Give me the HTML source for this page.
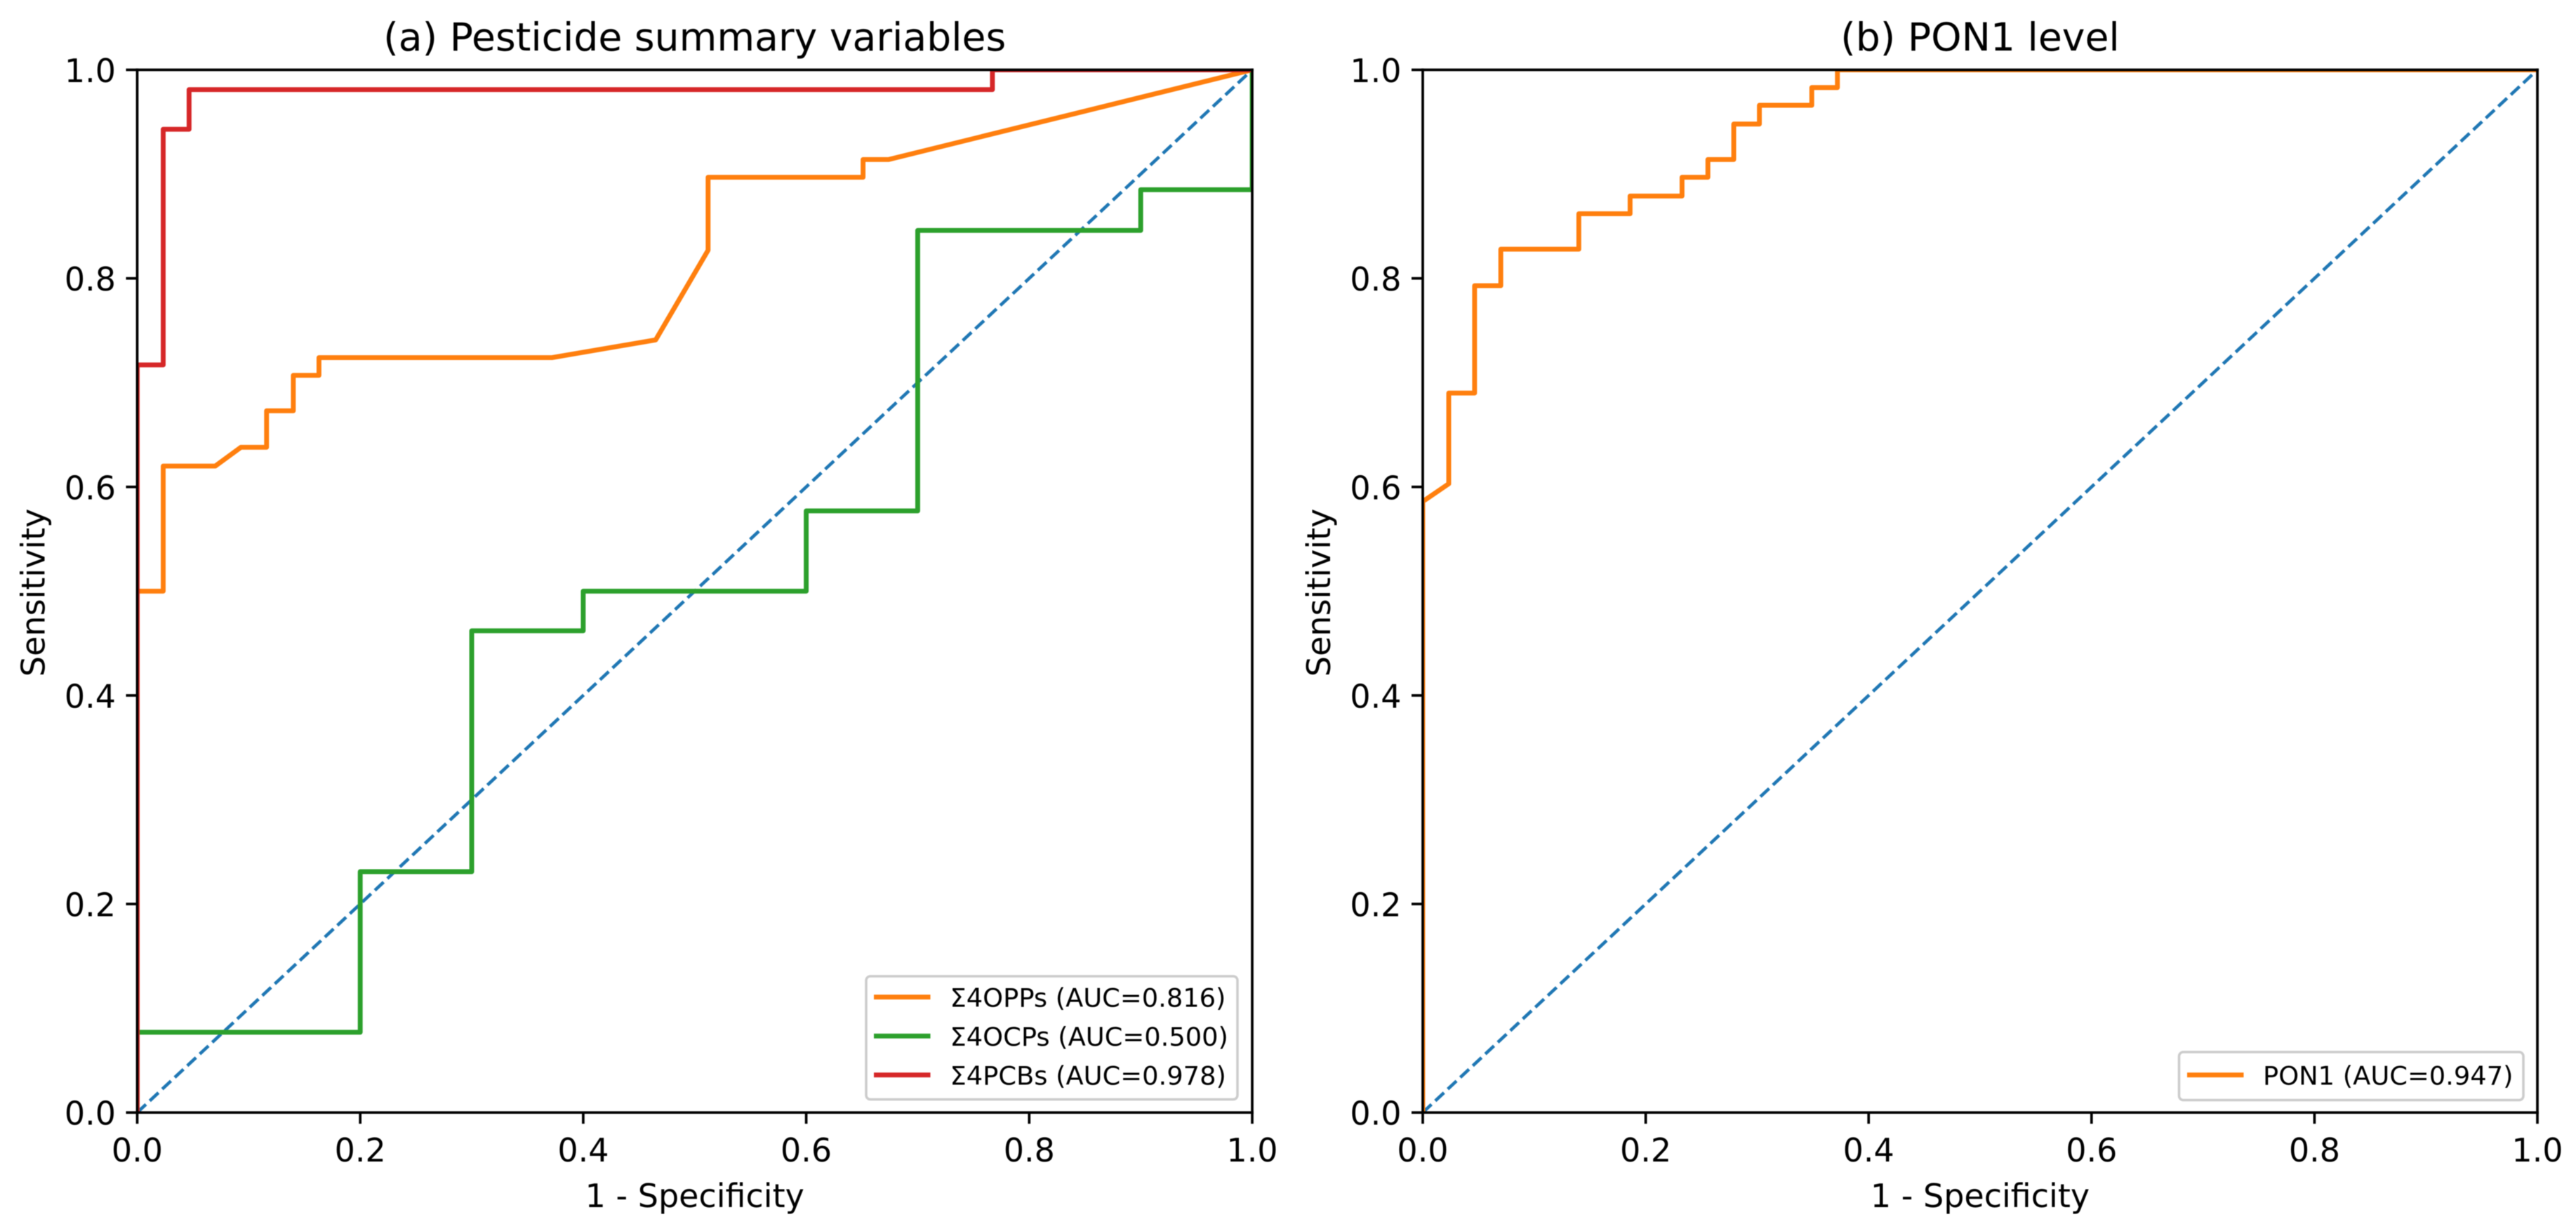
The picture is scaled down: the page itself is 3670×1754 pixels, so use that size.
<!DOCTYPE html>
<html lang="en">
<head>
<meta charset="utf-8">
<title>ROC curves</title>
<style>
html,body{margin:0;padding:0;background:#fff;}
svg{display:block;filter:blur(0.6px);}
text{font-family:"DejaVu Sans","Liberation Sans",sans-serif;fill:#000;}
</style>
</head>
<body>
<svg id="chart" xmlns="http://www.w3.org/2000/svg" width="3670" height="1754" viewBox="0 0 3670 1754"></svg>
<script>
// ---- Data ----
const xTickLabels = ['0.0', '0.2', '0.4', '0.6', '0.8', '1.0'];
const yTickLabels = ['0.0', '0.2', '0.4', '0.6', '0.8', '1.0'];
const referenceFpr = [0, 1];
const referenceTpr = [0, 1];

const oppsFpr = [0, 0, 0.0233, 0.0233, 0.07, 0.093, 0.116, 0.116, 0.14, 0.14, 0.163, 0.163, 0.372, 0.465, 0.512, 0.512, 0.651, 0.651, 0.674, 1];
const oppsTpr = [0, 0.5, 0.5, 0.62, 0.62, 0.638, 0.638, 0.673, 0.673, 0.707, 0.707, 0.724, 0.724, 0.741, 0.827, 0.897, 0.897, 0.914, 0.914, 1];

const ocpsFpr = [0, 0, 0.2, 0.2, 0.3, 0.3, 0.4, 0.4, 0.6, 0.6, 0.7, 0.7, 0.9, 0.9, 1, 1];
const ocpsTpr = [0, 0.077, 0.077, 0.231, 0.231, 0.462, 0.462, 0.5, 0.5, 0.577, 0.577, 0.846, 0.846, 0.885, 0.885, 1];

const pcbsFpr = [0, 0, 0.0233, 0.0233, 0.0465, 0.0465, 0.767, 0.767, 1];
const pcbsTpr = [0, 0.717, 0.717, 0.943, 0.943, 0.981, 0.981, 1, 1];

const pon1Fpr = [0, 0, 0.0233, 0.0233, 0.0465, 0.0465, 0.07, 0.07, 0.14, 0.14, 0.186, 0.186, 0.2326, 0.2326, 0.2558, 0.2558, 0.279, 0.279, 0.302, 0.302, 0.349, 0.349, 0.372, 0.372, 1];
const pon1Tpr = [0, 0.586, 0.603, 0.69, 0.69, 0.793, 0.793, 0.828, 0.828, 0.862, 0.862, 0.879, 0.879, 0.897, 0.897, 0.914, 0.914, 0.948, 0.948, 0.966, 0.966, 0.983, 0.983, 1, 1];

const seriesNames = ['Σ4OPPs', 'Σ4OCPs', 'Σ4PCBs', 'PON1'];
const seriesAuc = ['0.816', '0.500', '0.978', '0.947'];

// ---- Rendering ----
const SVG_NS = 'http://www.w3.org/2000/svg';
const root = document.getElementById('chart');

function make(tag, parent, name, interactable, attrs, content) {
  const el = document.createElementNS(SVG_NS, tag);
  
  
  for (const k in attrs) el.setAttribute(k, attrs[k]);
  if (content !== undefined) el.textContent = content;
  parent.appendChild(el);
  return el;
}

function drawPanel(cfg) {
  const x = v => cfg.left + v * (cfg.right - cfg.left);
  const y = v => cfg.bottom - v * (cfg.bottom - cfg.top);
  const g = make('g', root, cfg.key + '-panel', 'false', {});

  const clipId = cfg.key + '-clip';
  const defs = make('defs', g, cfg.key + '-defs', 'false', {});
  const clip = make('clipPath', defs, cfg.key + '-clip-path', 'false', { id: clipId });
  make('rect', clip, cfg.key + '-clip-rect', 'false', { x: cfg.left, y: cfg.top, width: cfg.right - cfg.left, height: cfg.bottom - cfg.top });

  const plot = make('g', g, cfg.key + '-plot-area', 'false', { 'clip-path': 'url(#' + clipId + ')' });

  const toPoints = (xs, ys) => xs.map((v, i) => x(v).toFixed(2) + ',' + y(ys[i]).toFixed(2)).join(' ');

  make('polyline', plot, cfg.key + '-reference-line', 'false', {
    points: toPoints(referenceFpr, referenceTpr), fill: 'none', stroke: '#1f77b4', 'stroke-width': 4.6, 'stroke-dasharray': '17 7.4'
  });

  cfg.series.forEach(s => {
    make('polyline', plot, cfg.key + '-curve-' + s.slug, 'true', {
      points: toPoints(s.xs, s.ys), fill: 'none', stroke: s.color, 'stroke-width': 6.9,
      'stroke-linejoin': 'round', 'stroke-linecap': 'square'
    });
  });

  const axes = make('g', g, cfg.key + '-axes', 'false', {});
  const sp = { stroke: '#000', 'stroke-width': 3.7, 'stroke-linecap': 'square' };
  make('line', axes, cfg.key + '-spine-left', 'false', Object.assign({ x1: cfg.left, x2: cfg.left, y1: cfg.top, y2: cfg.bottom }, sp));
  make('line', axes, cfg.key + '-spine-right', 'false', Object.assign({ x1: cfg.right, x2: cfg.right, y1: cfg.top, y2: cfg.bottom }, sp));
  make('line', axes, cfg.key + '-spine-top', 'false', Object.assign({ x1: cfg.left, x2: cfg.right, y1: cfg.top, y2: cfg.top }, sp));
  make('line', axes, cfg.key + '-spine-bottom', 'false', Object.assign({ x1: cfg.left, x2: cfg.right, y1: cfg.bottom, y2: cfg.bottom }, sp));

  xTickLabels.forEach(label => {
    const v = parseFloat(label);
    make('line', axes, cfg.key + '-x-tick-' + label, 'false', { x1: x(v), x2: x(v), y1: cfg.bottom, y2: cfg.bottom + 16, stroke: '#000', 'stroke-width': 3.7 });
    make('text', axes, cfg.key + '-x-tick-label-' + label, 'false', { x: x(v), y: cfg.bottom + 70, 'text-anchor': 'middle', 'font-size': 46 }, label);
  });
  yTickLabels.forEach(label => {
    const v = parseFloat(label);
    make('line', axes, cfg.key + '-y-tick-' + label, 'false', { x1: cfg.left - 16, x2: cfg.left, y1: y(v), y2: y(v), stroke: '#000', 'stroke-width': 3.7 });
    make('text', axes, cfg.key + '-y-tick-label-' + label, 'false', { x: cfg.left - 30.5, y: y(v) + 17.5, 'text-anchor': 'end', 'font-size': 46 }, label);
  });

  const cx = (cfg.left + cfg.right) / 2;
  make('text', g, cfg.key + '-title', 'false', { x: cx, y: 72, 'text-anchor': 'middle', 'font-size': 55.2 }, cfg.title);
  make('text', g, cfg.key + '-x-axis-title', 'false', { x: cx, y: 1720, 'text-anchor': 'middle', 'font-size': 46 }, '1 - Specificity');
  make('text', g, cfg.key + '-y-axis-title', 'false', {
    x: 0, y: 0, 'text-anchor': 'middle', 'font-size': 46,
    transform: 'translate(' + (cfg.left - 132) + ',' + ((cfg.top + cfg.bottom) / 2 + 2) + ') rotate(-90)'
  }, 'Sensitivity');

  const lg = cfg.legend;
  const legend = make('g', g, cfg.key + '-legend', 'false', {});
  make('rect', legend, cfg.key + '-legend-frame', 'false', {
    x: lg.left, y: lg.top, width: lg.right - lg.left, height: lg.bottom - lg.top, rx: 6, ry: 6,
    fill: '#fff', 'fill-opacity': 0.8, stroke: '#cccccc', 'stroke-width': 3.5
  });
  cfg.series.forEach((s, i) => {
    const ly = lg.firstRow + i * 55.5;
    const entry = make('g', legend, cfg.key + '-legend-entry-' + s.slug, 'true', {});
    make('line', entry, cfg.key + '-legend-swatch-' + s.slug, 'false', { x1: lg.handleL, x2: lg.handleR, y1: ly, y2: ly, stroke: s.color, 'stroke-width': 6.9 });
    make('text', entry, cfg.key + '-legend-label-' + s.slug, 'false', { x: lg.textX, y: ly + 14, 'font-size': 36.8 }, seriesNames[s.idx] + ' (AUC=' + seriesAuc[s.idx] + ')');
  });
}

drawPanel({
  key: 'panel-a', title: '(a) Pesticide summary variables',
  left: 195.5, right: 1784, top: 99.5, bottom: 1585.2,
  legend: { left: 1234, right: 1763, top: 1391, bottom: 1566.5, handleL: 1245, handleR: 1325.5, textX: 1353.5, firstRow: 1420.7 },
  series: [
    { slug: 'opps', idx: 0, color: '#ff7f0e', xs: oppsFpr, ys: oppsTpr },
    { slug: 'ocps', idx: 1, color: '#2ca02c', xs: ocpsFpr, ys: ocpsTpr },
    { slug: 'pcbs', idx: 2, color: '#d62728', xs: pcbsFpr, ys: pcbsTpr }
  ]
});

drawPanel({
  key: 'panel-b', title: '(b) PON1 level',
  left: 2027, right: 3615, top: 99.5, bottom: 1585.2,
  legend: { left: 3104.5, right: 3595, top: 1499, bottom: 1567.5, handleL: 3116, handleR: 3196.5, textX: 3224, firstRow: 1531.7 },
  series: [
    { slug: 'pon1', idx: 3, color: '#ff7f0e', xs: pon1Fpr, ys: pon1Tpr }
  ]
});
</script>
</body>
</html>
